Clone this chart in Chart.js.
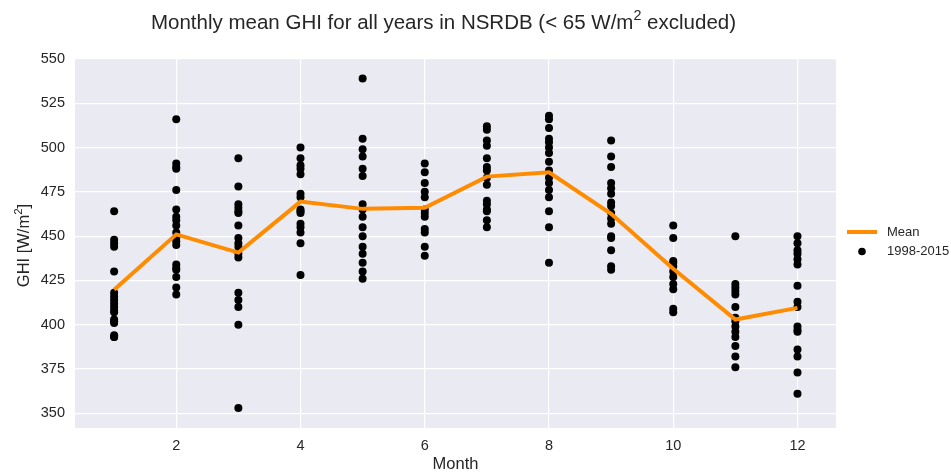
<!DOCTYPE html>
<html>
<head>
<meta charset="utf-8">
<script src="https://cdn.jsdelivr.net/npm/chart.js@4.4.1/dist/chart.umd.min.js"></script>
<style>
  html, body { margin: 0; padding: 0; background: #fff; }
</style>
</head>
<body>
<canvas id="ghi" width="951" height="472"></canvas>
<script>
const months = [1, 2, 3, 4, 5, 6, 7, 8, 9, 10, 11, 12];
const meanGhi = [419.8, 451.0, 440.7, 469.5, 465.4, 466.0, 483.6, 486.0, 462.6, 431.6, 402.9, 409.5];

// monthly means of each year 1998-2015 (overlapping points read once)
const jan = [464, 448, 446, 444, 430, 418, 416, 414, 412, 410, 408, 407, 403, 402, 401, 394, 393, 393];
const feb = [516, 491, 489, 488, 476, 465, 461, 459, 456, 452, 449, 447, 445, 434, 432, 431, 427, 421, 417];
const mar = [494, 478, 468, 466, 464, 463, 456, 449, 446, 444, 440, 438, 418, 414, 410, 400, 353];
const apr = [500, 494, 490, 488, 485, 474, 472, 465, 464, 463, 457, 455, 452, 446, 428];
const may = [539, 505, 499, 495, 488, 484, 468, 465, 461, 455, 450, 444, 440, 435, 430, 426];
const jun = [491, 486, 480, 475, 472, 465, 463, 461, 454, 452, 444, 439];
const jul = [512, 510, 504, 501, 494, 489, 487, 483, 479, 470, 468, 465, 464, 459, 455];
const aug = [518, 516, 511, 505, 503, 500, 497, 492, 487, 483, 480, 476, 472, 464, 455, 435];
const sep = [504, 495, 489, 480, 477, 474, 469, 467, 463, 460, 457, 450, 449, 442, 433, 431];
const oct = [456, 449, 436, 435, 433, 430, 427, 423, 420, 409, 407];
const nov = [450, 423, 421, 419, 417, 410, 404, 402, 399, 396, 393, 388, 382, 376];
const dec = [450, 446, 442, 440, 437, 434, 422, 413, 410, 399, 397, 396, 386, 382, 373, 361];
const yearly = [jan, feb, mar, apr, may, jun, jul, aug, sep, oct, nov, dec];

const yTicks = [350, 375, 400, 425, 450, 475, 500, 525, 550];
const xTicks = [2, 4, 6, 8, 10, 12];

const FONT = '"Liberation Sans", Arial, sans-serif';
const INK = '#262626';

const scatterPts = [];
yearly.forEach((vals, i) => vals.forEach(v => scatterPts.push({x: months[i], y: v})));
const meanPts = months.map((m, i) => ({x: m, y: meanGhi[i]}));

function drawWithSup(ctx, pieces, cx, baseY, size) {
  const widths = pieces.map(([t, sup]) => {
    ctx.font = (sup ? size * 0.7 : size) + 'px ' + FONT;
    return ctx.measureText(t).width;
  });
  const total = widths.reduce((s, w) => s + w, 0);
  let x = cx - total / 2;
  ctx.textAlign = 'left';
  ctx.textBaseline = 'alphabetic';
  pieces.forEach(([t, sup], i) => {
    ctx.font = (sup ? size * 0.7 : size) + 'px ' + FONT;
    ctx.fillText(t, x, sup ? baseY - size * 0.42 : baseY);
    x += widths[i];
  });
}

const figText = {
  id: 'figText',
  beforeDraw(chart) {
    const {ctx, chartArea: a} = chart;
    ctx.save();
    ctx.fillStyle = '#eaeaf2';
    ctx.fillRect(a.left, a.top, a.right - a.left, a.bottom - a.top);
    ctx.restore();
  },
  afterDraw(chart) {
    const {ctx, chartArea: a} = chart;
    ctx.save();
    ctx.fillStyle = INK;
    // title
    drawWithSup(ctx, [['Monthly mean GHI for all years in NSRDB (< 65 W/m', false], ['2', true], [' excluded)', false]], 443.5, 29, 20.5);
    // x label
    ctx.font = '16.5px ' + FONT;
    ctx.textAlign = 'center';
    ctx.textBaseline = 'alphabetic';
    ctx.fillText('Month', (a.left + a.right) / 2, 469);
    // y label
    ctx.save();
    ctx.translate(29, 245.5);
    ctx.rotate(-Math.PI / 2);
    drawWithSup(ctx, [['GHI [W/m', false], ['2', true], [']', false]], 0, 0, 16.5);
    ctx.restore();

    // legend
    const ds = chart.data.datasets;
    ctx.font = '13px ' + FONT;
    ctx.textAlign = 'left';
    ctx.textBaseline = 'middle';
    ctx.strokeStyle = ds[0].borderColor;
    ctx.lineWidth = 4;
    ctx.beginPath();
    ctx.moveTo(847, 232);
    ctx.lineTo(877, 232);
    ctx.stroke();
    ctx.fillStyle = INK;
    ctx.fillText(ds[0].label, 887, 232);
    ctx.fillStyle = ds[1].backgroundColor;
    ctx.beginPath();
    ctx.arc(862, 251.5, 3.8, 0, Math.PI * 2);
    ctx.fill();
    ctx.fillStyle = INK;
    ctx.fillText(ds[1].label, 887, 251.5);
    ctx.restore();
  }
};

new Chart(document.getElementById('ghi'), {
  type: 'scatter',
  data: {
    datasets: [{
      label: 'Mean',
      data: meanPts,
      showLine: true,
      borderColor: '#ff8c00',
      backgroundColor: '#ff8c00',
      borderWidth: 4,
      pointRadius: 0,
      order: 0
    }, {
      label: '1998-2015',
      data: scatterPts,
      backgroundColor: '#000000',
      borderColor: '#000000',
      pointRadius: 4,
      borderWidth: 0,
      order: 1
    }]
  },
  options: {
    responsive: false,
    animation: false,
    events: [],
    layout: {padding: {left: 0, top: 59, right: 115, bottom: 0}},
    plugins: {
      legend: {display: false},
      title: {display: false},
      tooltip: {enabled: false}
    },
    scales: {
      x: {
        type: 'linear',
        min: 0.37,
        max: 12.62,
        afterBuildTicks: s => { s.ticks = xTicks.map(v => ({value: v})); },
        afterFit: s => { s.height = 44; },
        grid: {color: '#ffffff', lineWidth: 1.2, drawTicks: false},
        border: {display: false},
        ticks: {color: INK, font: {family: FONT, size: 14.5}, padding: 9}
      },
      y: {
        min: 341.7,
        max: 550,
        afterBuildTicks: s => { s.ticks = yTicks.map(v => ({value: v})); },
        afterFit: s => { s.width = 75; },
        grid: {color: '#ffffff', lineWidth: 1.2, drawTicks: false},
        border: {display: false},
        ticks: {color: INK, font: {family: FONT, size: 14.5}, padding: 10}
      }
    }
  },
  plugins: [figText]
});
</script>
</body>
</html>
